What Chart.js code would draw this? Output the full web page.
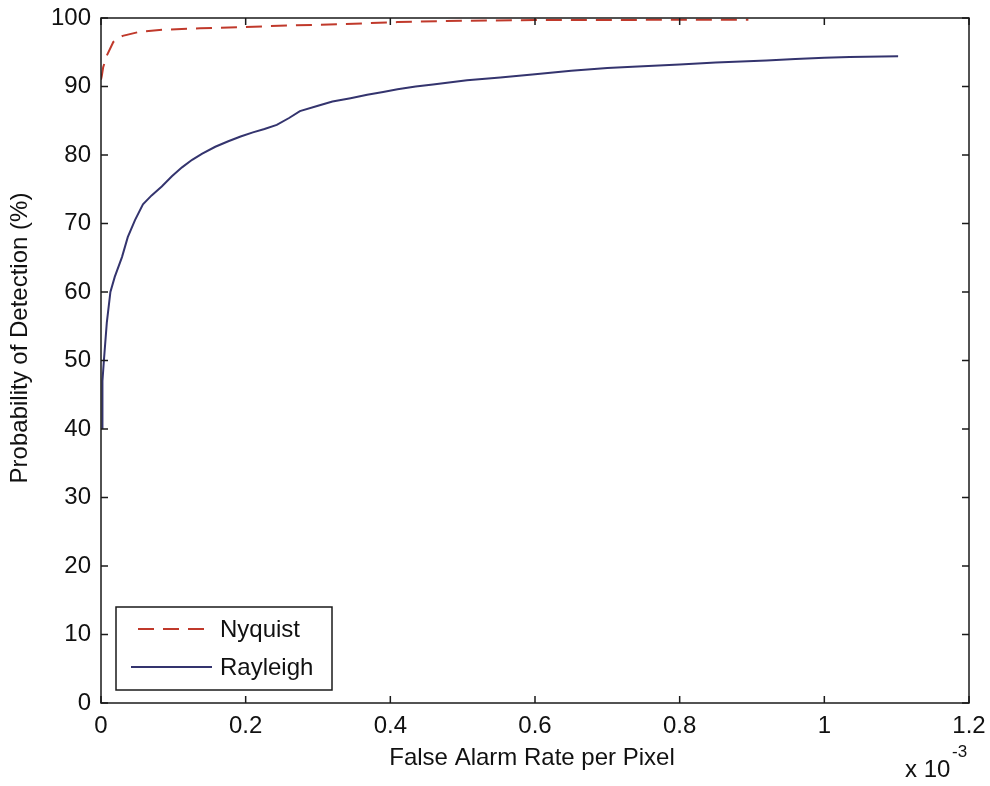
<!DOCTYPE html>
<html lang="en">
<head>
<meta charset="UTF-8">
<title>Probability of Detection vs False Alarm Rate</title>
<script src="https://cdn.jsdelivr.net/npm/chart.js"></script>
<style>
  html, body { margin: 0; padding: 0; background: #fff; }
  #wrap { width: 990px; height: 786px; }
</style>
</head>
<body>
<div id="wrap"><canvas id="roc" width="990" height="786"></canvas></div>
<script>
// false alarm rate is given in units of 1e-3 (the "x 10^-3" under the axis)
const nyquistFar = [0, 0.001, 0.003, 0.008, 0.017, 0.030, 0.054, 0.088, 0.137, 0.200, 0.260, 0.330, 0.410, 0.500, 0.600, 0.700, 0.800, 0.895];
const nyquistPd  = [91.0, 91.5, 92.8, 94.5, 96.5, 97.4, 98.0, 98.3, 98.5, 98.7, 98.9, 99.1, 99.4, 99.6, 99.7, 99.7, 99.75, 99.75];

const rayleighFar = [0.002, 0.002, 0.004, 0.008, 0.013, 0.019, 0.029, 0.037, 0.047, 0.058, 0.070, 0.084, 0.098, 0.112, 0.126, 0.140,
                     0.158, 0.176, 0.193, 0.210, 0.226, 0.243, 0.260, 0.275, 0.300, 0.320, 0.345, 0.368, 0.390, 0.410, 0.435,
                     0.459, 0.506, 0.552, 0.600, 0.650, 0.700, 0.735, 0.800, 0.850, 0.920, 0.960, 1.000, 1.035, 1.102];
const rayleighPd  = [40.0, 47.0, 50.0, 55.5, 60.0, 62.2, 65.1, 68.0, 70.5, 72.8, 74.1, 75.4, 76.9, 78.2, 79.3, 80.2,
                     81.2, 82.0, 82.7, 83.3, 83.8, 84.4, 85.4, 86.4, 87.2, 87.8, 88.3, 88.8, 89.2, 89.6, 90.0,
                     90.3, 90.9, 91.3, 91.8, 92.3, 92.7, 92.9, 93.2, 93.5, 93.8, 94.0, 94.2, 94.3, 94.4];

const seriesNames = ['Nyquist', 'Rayleigh'];
const xTickLabels = ['0', '0.2', '0.4', '0.6', '0.8', '1', '1.2'];
const yTickLabels = ['0', '10', '20', '30', '40', '50', '60', '70', '80', '90', '100'];

const FONT = '"Liberation Sans", Arial, Helvetica, sans-serif';

function toPoints(xs, ys) {
    return xs.map((v, i) => ({ x: v, y: ys[i] }));
}

// matlab style box, inward ticks, legend and axis labels
const matlabAxes = {
    id: 'matlabAxes',
    afterDatasetsDraw(chart) {
        const { ctx, chartArea: a, scales: { x, y } } = chart;
        ctx.save();
        ctx.strokeStyle = '#1a1a1a';
        ctx.lineWidth = 1.5;
        ctx.strokeRect(a.left, a.top, a.right - a.left, a.bottom - a.top);

        ctx.beginPath();
        x.ticks.forEach(t => {
            const px = x.getPixelForValue(t.value);
            ctx.moveTo(px, a.bottom); ctx.lineTo(px, a.bottom - 7);
            ctx.moveTo(px, a.top); ctx.lineTo(px, a.top + 7);
        });
        y.ticks.forEach(t => {
            const py = y.getPixelForValue(t.value);
            ctx.moveTo(a.left, py); ctx.lineTo(a.left + 7, py);
            ctx.moveTo(a.right, py); ctx.lineTo(a.right - 7, py);
        });
        ctx.stroke();

        // legend box in the lower left corner
        const lx = a.left + 15, ly = a.bottom - 96, lw = 216, lh = 83;
        ctx.fillStyle = '#fff';
        ctx.fillRect(lx, ly, lw, lh);
        ctx.strokeRect(lx, ly, lw, lh);
        chart.data.datasets.forEach((ds, i) => {
            const rowY = ly + 22 + i * 38;
            ctx.beginPath();
            ctx.strokeStyle = ds.borderColor;
            ctx.lineWidth = 2;
            ctx.setLineDash(ds.borderDash || []);
            ctx.moveTo(lx + (ds.borderDash ? 22 : 15), rowY);
            ctx.lineTo(lx + 96, rowY);
            ctx.stroke();
            ctx.setLineDash([]);
            ctx.fillStyle = '#111';
            ctx.font = '24px ' + FONT;
            ctx.textAlign = 'left';
            ctx.textBaseline = 'middle';
            ctx.fillText(ds.label, lx + 104, rowY + 1);
        });
        ctx.restore();
    },
    afterDraw(chart) {
        const { ctx, chartArea: a } = chart;
        ctx.save();
        ctx.fillStyle = '#111';
        ctx.font = '24px ' + FONT;
        ctx.textAlign = 'center';
        ctx.textBaseline = 'middle';
        ctx.fillText('False Alarm Rate per Pixel', (a.left + a.right) / 2 - 3, 758);

        ctx.save();
        ctx.translate(20, 338);
        ctx.rotate(-Math.PI / 2);
        ctx.fillText('Probability of Detection (%)', 0, 0);
        ctx.restore();

        // exponent of the x axis
        ctx.textAlign = 'left';
        ctx.fillText('x 10', 905, 770);
        ctx.font = '17px ' + FONT;
        ctx.fillText('-3', 952, 752);
        ctx.restore();
    }
};

const ctx = document.getElementById('roc').getContext('2d');
new Chart(ctx, {
    type: 'line',
    data: {
        datasets: [
            {
                label: seriesNames[0],
                data: toPoints(nyquistFar, nyquistPd),
                borderColor: '#c0392b',
                borderWidth: 2,
                borderDash: [16, 9],
                pointRadius: 0,
                tension: 0,
                fill: false
            },
            {
                label: seriesNames[1],
                data: toPoints(rayleighFar, rayleighPd),
                borderColor: '#34346e',
                borderWidth: 2,
                pointRadius: 0,
                tension: 0,
                fill: false
            }
        ]
    },
    options: {
        responsive: false,
        animation: false,
        devicePixelRatio: 1,
        layout: { padding: { top: 18, right: 21, left: 0, bottom: 0 } },
        plugins: {
            legend: { display: false },
            tooltip: { enabled: false }
        },
        scales: {
            x: {
                type: 'linear',
                min: 0,
                max: 1.2,
                grid: { display: false, drawTicks: false },
                border: { display: false },
                ticks: {
                    stepSize: 0.2,
                    padding: 9,
                    color: '#111',
                    font: { family: FONT, size: 24 },
                    maxRotation: 0,
                    callback: (v, i) => xTickLabels[i]
                },
                afterFit: s => { s.height = 83; s.paddingLeft = 0; s.paddingRight = 0; }
            },
            y: {
                type: 'linear',
                min: 0,
                max: 100,
                grid: { display: false, drawTicks: false },
                border: { display: false },
                ticks: {
                    stepSize: 10,
                    padding: 10,
                    color: '#111',
                    font: { family: FONT, size: 24 },
                    callback: (v, i) => yTickLabels[i]
                },
                afterFit: s => { s.width = 101; s.paddingTop = 0; s.paddingBottom = 0; }
            }
        }
    },
    plugins: [matlabAxes]
});
</script>
</body>
</html>
